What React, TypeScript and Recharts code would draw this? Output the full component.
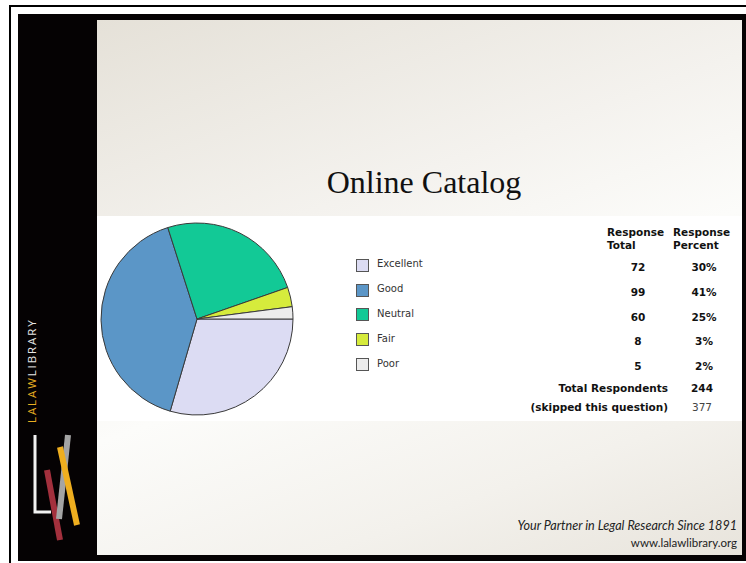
import { PieChart, Pie, Cell } from 'recharts';

// survey answers, clockwise from 3 o'clock
const categories = ['Excellent', 'Good', 'Neutral', 'Fair', 'Poor'];
const responseTotals = [72, 99, 60, 8, 5];
const sliceColors = ['#dcdcf3', '#5b96c7', '#12c996', '#d6eb3c', '#ececec'];
const totalRespondents = 244;
const skippedQuestion = 377;

const pieData = categories.map((name, i) => ({
  name,
  value: responseTotals[i],
}));

const percentLabels = responseTotals.map(
  (v) => `${Math.round((v / totalRespondents) * 100)}%`
);

const verdana = '"DejaVu Sans", Verdana, sans-serif';
const rowTop = 259;
const rowStep = 24.8;

function Sidebar() {
  return (
    <svg
      width={80}
      height={547}
      style={{ position: 'absolute', left: 18, top: 14 }}
    >
      <text
        transform="translate(17.5,409) rotate(-90)"
        fontFamily='"Open Sans", "DejaVu Sans", sans-serif'
        fontSize={11.5}
        letterSpacing={1.9}
      >
        <tspan fill="#e8ae22">LALAW</tspan>
        <tspan fill="#e6e6e6">LIBRARY</tspan>
      </text>
      <polyline
        points="17,421 17,498 33,498"
        fill="none"
        stroke="#f2f2f2"
        strokeWidth={3}
      />
      <line x1={29} y1={456} x2={42} y2={526} stroke="#a3303d" strokeWidth={6} />
      <line x1={50} y1={421} x2={41} y2={505} stroke="#a4a4a4" strokeWidth={6} />
      <line x1={42} y1={433} x2={59} y2={511} stroke="#efae1f" strokeWidth={6} />
    </svg>
  );
}

function LegendList() {
  return (
    <div
      style={{
        position: 'absolute',
        left: 356,
        top: rowTop - 6,
        fontFamily: verdana,
        fontSize: 10,
        color: '#333',
      }}
    >
      {pieData.map((d, i) => (
        <div
          key={d.name}
          style={{ display: 'flex', alignItems: 'center', height: rowStep }}
        >
          <span
            style={{
              display: 'inline-block',
              width: 11,
              height: 11,
              background: sliceColors[i],
              border: '1px solid #555',
              marginRight: 8,
            }}
          />
          <span style={{ marginTop: -3 }}>{d.name}</span>
        </div>
      ))}
    </div>
  );
}

function Cellx({
  x,
  y,
  children,
  bold = true,
  color = '#111',
  align = 'center',
}: {
  x: number;
  y: number;
  children: any;
  bold?: boolean;
  color?: string;
  align?: 'center' | 'right' | 'left';
}) {
  const w = 200;
  const left = align === 'center' ? x - w / 2 : align === 'right' ? x - w : x;
  return (
    <div
      style={{
        position: 'absolute',
        left,
        top: y - 7,
        width: w,
        textAlign: align,
        fontFamily: verdana,
        fontSize: 10.5,
        fontWeight: bold ? 700 : 400,
        color,
        lineHeight: '14px',
        whiteSpace: 'nowrap',
      }}
    >
      {children}
    </div>
  );
}

function ResponseTable() {
  return (
    <>
      <Cellx x={607} y={232} align="left">Response</Cellx>
      <Cellx x={607} y={245} align="left">Total</Cellx>
      <Cellx x={673} y={232} align="left">Response</Cellx>
      <Cellx x={673} y={245} align="left">Percent</Cellx>
      {responseTotals.map((v, i) => (
        <Cellx key={'t' + i} x={638} y={rowTop + 8 + i * rowStep}>
          {v}
        </Cellx>
      ))}
      {percentLabels.map((p, i) => (
        <Cellx key={'p' + i} x={704} y={rowTop + 8 + i * rowStep}>
          {p}
        </Cellx>
      ))}
      <Cellx x={668} y={388} align="right">Total Respondents</Cellx>
      <Cellx x={702} y={388}>{totalRespondents}</Cellx>
      <Cellx x={668} y={407} align="right">(skipped this question)</Cellx>
      <Cellx x={702} y={407} bold={false} color="#444">
        {skippedQuestion}
      </Cellx>
    </>
  );
}

export default function App() {
  return (
    <div
      style={{
        position: 'absolute',
        left: 0,
        top: 0,
        width: 746,
        height: 563,
        overflow: 'hidden',
        background: '#fff',
      }}
    >
      <div
        style={{
          position: 'absolute',
          left: 9,
          top: 5,
          width: 800,
          height: 600,
          border: '2px solid #000',
        }}
      />
      <div
        style={{
          position: 'absolute',
          left: 18,
          top: 14,
          width: 760,
          height: 547,
          background: '#050203',
        }}
      />
      <div
        style={{
          position: 'absolute',
          left: 97,
          top: 20,
          width: 645,
          height: 535,
          background:
            'linear-gradient(160deg, #e5e1d8 0%, #f4f2ee 35%, #fcfcfa 55%, #f3f1ec 80%, #e8e4dc 100%)',
        }}
      />
      <div
        style={{
          position: 'absolute',
          left: 97,
          top: 216,
          width: 645,
          height: 205,
          background: '#fff',
        }}
      />
      <Sidebar />
      <div
        style={{
          position: 'absolute',
          left: 224,
          top: 164,
          width: 400,
          textAlign: 'center',
          fontFamily: '"Liberation Serif", "DejaVu Serif", serif',
          fontSize: 32,
          color: '#111',
        }}
      >
        Online Catalog
      </div>
      <div
        style={{
          position: 'absolute',
          right: 9,
          top: 517,
          textAlign: 'right',
          fontFamily: 'Lato, "Open Sans", sans-serif',
          color: '#222',
          lineHeight: '17px',
        }}
      >
        <div style={{ fontStyle: 'italic', fontSize: 12.6 }}>
          Your Partner in Legal Research Since 1891
        </div>
        <div style={{ fontSize: 11.5 }}>www.lalawlibrary.org</div>
      </div>
      <LegendList />
      <ResponseTable />
      <div style={{ position: 'absolute', left: 0, top: 0 }}>
        <PieChart
          width={746}
          height={563}
          margin={{ top: 0, right: 0, bottom: 0, left: 0 }}
        >
          <Pie
            data={pieData}
            dataKey="value"
            nameKey="name"
            cx={197}
            cy={319}
            outerRadius={96}
            startAngle={0}
            endAngle={-360}
            stroke="#3a3a3a"
            strokeWidth={1}
            isAnimationActive={false}
          >
            {pieData.map((d, i) => (
              <Cell key={d.name} fill={sliceColors[i]} />
            ))}
          </Pie>
        </PieChart>
      </div>
    </div>
  );
}
